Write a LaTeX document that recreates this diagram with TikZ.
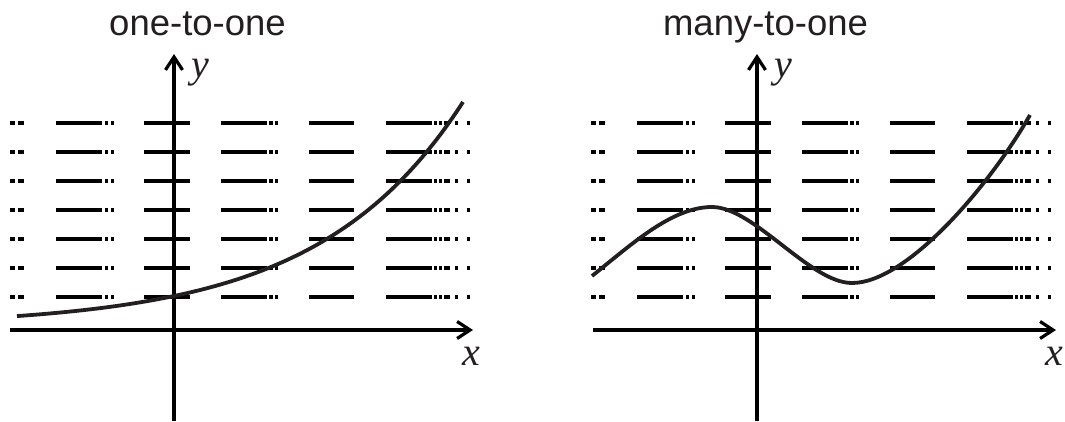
\documentclass[tikz,border=0pt]{standalone}
\usepackage{fontspec}
\setmainfont{Liberation Sans}
\newfontfamily\tnr{Liberation Serif}
\usetikzlibrary{arrows.meta}
\definecolor{ink}{HTML}{231F20}
\tikzset{
  axisline/.style={line width=3.2pt, black, -{Straight Barb[length=13pt,width=17pt]}},
  curveline/.style={line width=3.8pt, ink},
  dashseg/.style={line width=3.2pt, black, line cap=butt},
  titletext/.style={inner sep=0pt, anchor=base, font=\fontsize{36.5}{40}\selectfont, text=ink},
  varlabel/.style={inner sep=0pt, anchor=base west, font=\fontsize{40}{44}\selectfont\tnr\itshape, text=ink}
}
\begin{document}
\begin{tikzpicture}[x=1pt,y=-1pt]
\useasboundingbox (0,0) rectangle (1065,421);
% dashed rows
\foreach \off in {0,581}{
  \foreach \yy in {123,152,181,210,239,268,297}{
    \foreach \a/\b in {10/15,18/24,56/102,105/107.5,111/113.5,144/190,221/267,269/272.5,275/278,309/354,386/432,434/436.5,439/441.5,444/450,455/458,467/470}{
      \draw[dashseg] (\a+\off,\yy) -- (\b+\off,\yy);
    }
  }
}
% left panel axes
\coordinate (lxs) at (10,330);
\coordinate (lxe) at (473,330);
\coordinate (lys) at (174,421);
\coordinate (lye) at (174,54);
\draw[axisline] (lxs) -- (lxe);
\draw[axisline] (lys) -- (lye);
% right panel axes
\coordinate (rxs) at (593,330);
\coordinate (rxe) at (1056,330);
\coordinate (rys) at (757,421);
\coordinate (rye) at (757,54);
\draw[axisline] (rxs) -- (rxe);
\draw[axisline] (rys) -- (rye);
% curves
\draw[curveline] plot[domain=17:463, samples=120] (\x, {330-(3.7+30.3*exp(0.00693*(\x-174)))});
\draw[curveline] (592,276) .. controls (632,244) and (672,207) .. (712,207)
  .. controls (754,207) and (810,283) .. (852,283)
  .. controls (907,283) and (990,185) .. (1030,115);
% labels
\node[titletext] (t1) at (197.5,35) {one-to-one};
\node[titletext] (t2) at (765.5,35) {many-to-one};
\node[varlabel] (ly) at (191,77) {y};
\node[varlabel] (lx) at (462,365) {x};
\node[varlabel] (ry) at (774,77) {y};
\node[varlabel] (rx) at (1045,365) {x};
\end{tikzpicture}
\end{document}
